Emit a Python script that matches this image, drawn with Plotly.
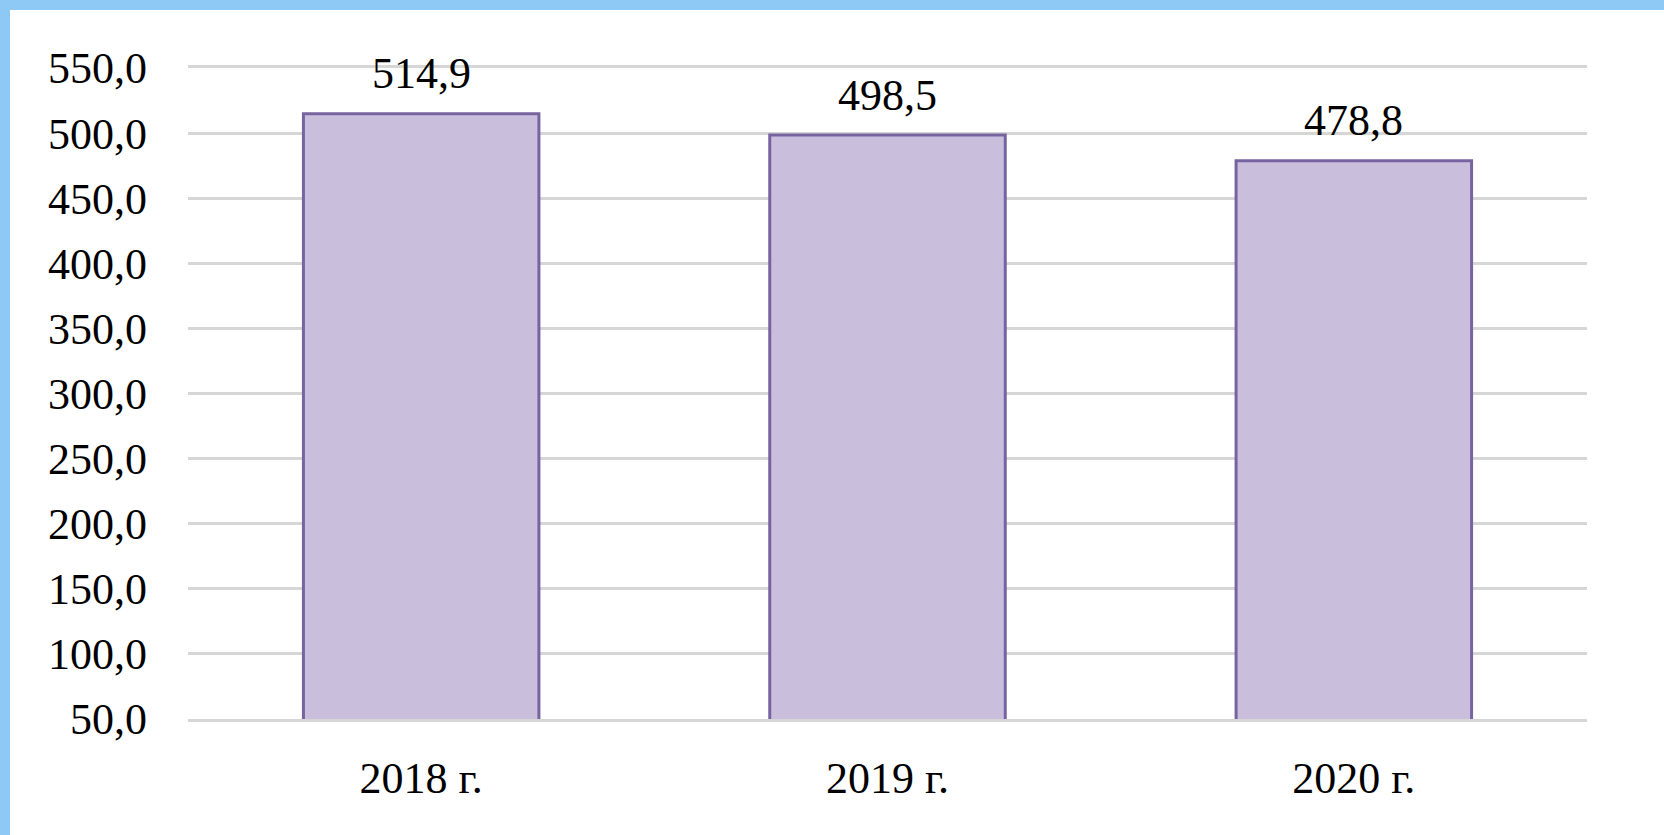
import plotly.graph_objects as go

categories = ["2018 г.", "2019 г.", "2020 г."]
values = [514.9, 498.5, 478.8]
tick_values = [50, 100, 150, 200, 250, 300, 350, 400, 450, 500, 550]
tick_labels = ["50,0", "100,0", "150,0", "200,0", "250,0", "300,0", "350,0", "400,0", "450,0", "500,0", "550,0"]

W, H = 1664, 835
L, R, T, B = 188, 77, 68, 116
pw, ph = W - L - R, H - T - B

font = "Liberation Serif"
fs = 44
grid = "#d6d6d6"

fig = go.Figure()
fig.add_trace(go.Bar(
    x=categories, y=values,
    marker=dict(color="#cabedd", line=dict(color="#77639f", width=3)),
    width=0.505,
    hoverinfo="skip",
))

for c, v in zip(categories, values):
    fig.add_annotation(x=c, y=v, text=f"{v:.1f}".replace(".", ","), showarrow=False,
                       yanchor="middle", yshift=40,
                       font=dict(family=font, size=fs, color="#000000"))

# white card over blue border background
fig.add_shape(type="rect", xref="paper", yref="paper", layer="below",
              x0=(10 - L) / pw, x1=(W - L + 20) / pw,
              y0=(T + ph - H - 20) / ph, y1=(T + ph - 10) / ph,
              fillcolor="white", line=dict(width=0))

fig.update_layout(
    width=W, height=H,
    margin=dict(l=L, r=R, t=T, b=B),
    paper_bgcolor="#8ec8f5",
    plot_bgcolor="rgba(0,0,0,0)",
    showlegend=False,
    font=dict(family=font, size=fs, color="#000000"),
    xaxis=dict(showgrid=False, showline=True, mirror=True, linecolor=grid, linewidth=2.5,
               ticks="", tickfont=dict(size=fs), ticklabelstandoff=18),
    yaxis=dict(range=[50, 550], tickvals=tick_values, ticktext=tick_labels,
               showgrid=True, gridcolor=grid, gridwidth=2.5,
               zeroline=False, showline=False, ticks="", ticklabelstandoff=40,
               tickfont=dict(size=fs)),
)

fig.write_html("out.html", config={"displayModeBar": False},
               post_script="document.body.style.margin='0';document.body.style.overflow='hidden';")
